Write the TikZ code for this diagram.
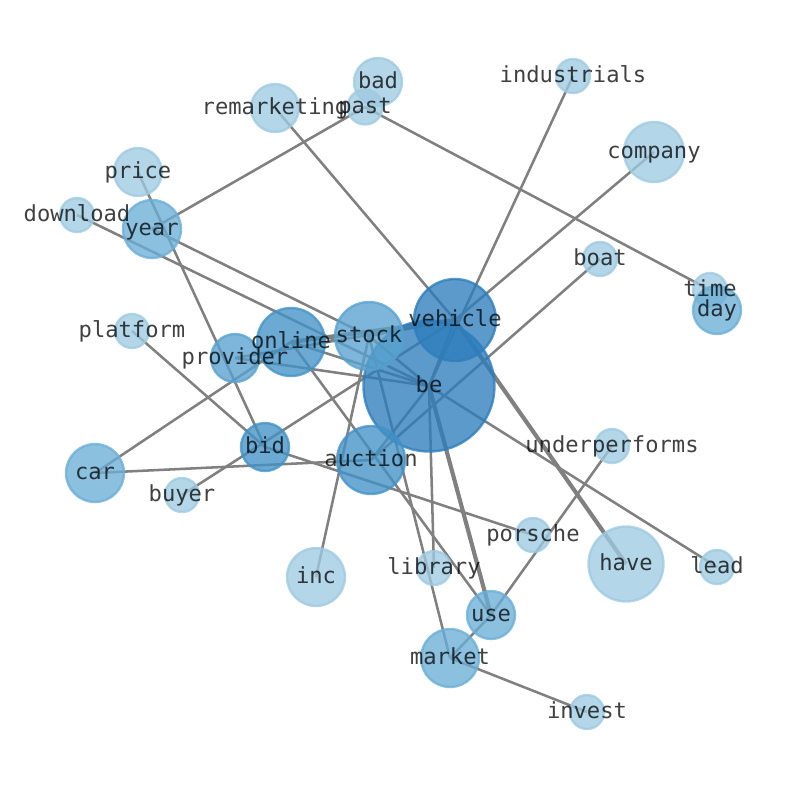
\documentclass[tikz,border=0pt]{standalone}
\usepackage{fontspec}
\setmonofont{DejaVu Sans Mono}
\usetikzlibrary{backgrounds}
\definecolor{cA}{RGB}{158,202,225}
\definecolor{cB}{RGB}{107,174,214}
\definecolor{cC}{RGB}{88,162,207}
\definecolor{cD}{RGB}{66,146,198}
\definecolor{cE}{RGB}{45,125,188}
\definecolor{edgegray}{RGB}{128,128,128}
\tikzset{
  nd/.style={circle, inner sep=0pt, fill=#1, draw=#1, fill opacity=0.78, draw opacity=0.78, line width=1.8pt},
  lbl/.style={font=\ttfamily\fontsize{16.6pt}{18pt}\selectfont, text=black, text opacity=0.75, inner sep=0pt, text height=0.74em, text depth=0.24em, yshift=-2.4pt},
  ed/.style={draw=edgegray, line width=1.9pt},
  edt/.style={draw=edgegray, line width=3.1pt}
}
\begin{document}
\begin{tikzpicture}[x=0.75pt,y=-0.75pt]
\useasboundingbox (0,0) rectangle (794,790);
% nodes (circles)
\node[nd=cA, minimum size=48*0.75pt] (bad) at (378,82) {};
\node[nd=cA, minimum size=35*0.75pt] (past) at (365,107) {};
\node[nd=cA, minimum size=48*0.75pt] (remarketing) at (275,108) {};
\node[nd=cA, minimum size=34*0.75pt] (industrials) at (573,76) {};
\node[nd=cA, minimum size=60*0.75pt] (company) at (654,152) {};
\node[nd=cA, minimum size=48*0.75pt] (price) at (138,172) {};
\node[nd=cA, minimum size=34*0.75pt] (download) at (77,215) {};
\node[nd=cB, minimum size=58*0.75pt] (year) at (152,229) {};
\node[nd=cA, minimum size=34*0.75pt] (boat) at (600,259) {};
\node[nd=cA, minimum size=34*0.75pt] (time) at (710,290) {};
\node[nd=cB, minimum size=48*0.75pt] (day) at (717,310) {};
\node[nd=cA, minimum size=34*0.75pt] (platform) at (132,331) {};
\node[nd=cE, minimum size=131*0.75pt] (be) at (429,386) {};
\node[nd=cE, minimum size=82*0.75pt] (vehicle) at (455,320) {};
\node[nd=cC, minimum size=68*0.75pt] (stock) at (369,336) {};
\node[nd=cD, minimum size=68*0.75pt] (online) at (291,342) {};
\node[nd=cC, minimum size=48*0.75pt] (provider) at (235,358) {};
\node[nd=cA, minimum size=34*0.75pt] (underperforms) at (612,446) {};
\node[nd=cD, minimum size=48*0.75pt] (bid) at (265,447) {};
\node[nd=cD, minimum size=68*0.75pt] (auction) at (371,460) {};
\node[nd=cB, minimum size=58*0.75pt] (car) at (95,473) {};
\node[nd=cA, minimum size=34*0.75pt] (buyer) at (182,495) {};
\node[nd=cA, minimum size=34*0.75pt] (porsche) at (533,535) {};
\node[nd=cA, minimum size=75*0.75pt] (have) at (626,564) {};
\node[nd=cA, minimum size=34*0.75pt] (lead) at (717,567) {};
\node[nd=cA, minimum size=58*0.75pt] (inc) at (316,577) {};
\node[nd=cA, minimum size=34*0.75pt] (library) at (434,568) {};
\node[nd=cB, minimum size=48*0.75pt] (use) at (491,615) {};
\node[nd=cB, minimum size=58*0.75pt] (market) at (450,658) {};
\node[nd=cA, minimum size=34*0.75pt] (invest) at (587,712) {};
% edges
\begin{scope}[on background layer]
\draw[ed] (year.center) -- (past.center);
\draw[ed] (past.center) -- (time.center);
\draw[ed] (remarketing.center) -- (vehicle.center);
\draw[ed] (industrials.center) -- (be.center);
\draw[ed] (company.center) -- (vehicle.center);
\draw[ed] (boat.center) -- (auction.center);
\draw[ed] (platform.center) -- (bid.center);
\draw[ed] (download.center) -- (be.center);
\draw[ed] (year.center) -- (stock.center);
\draw[ed] (price.center) -- (bid.center);
\draw[ed] (car.center) -- (online.center);
\draw[ed] (car.center) -- (auction.center);
\draw[ed] (buyer.center) -- (vehicle.center);
\draw[ed] (bid.center) -- (porsche.center);
\draw[ed] (provider.center) -- (be.center);
\draw[ed] (provider.center) -- (vehicle.center);
\draw[edt] (online.center) -- (vehicle.center);
\draw[ed] (online.center) -- (be.center);
\draw[ed] (online.center) -- (use.center);
\draw[ed] (stock.center) -- (be.center);
\draw[ed] (stock.center) -- (inc.center);
\draw[ed] (stock.center) -- (market.center);
\draw[ed] (be.center) -- (library.center);
\draw[edt] (be.center) -- (use.center);
\draw[ed] (be.center) -- (lead.center);
\draw[ed] (be.center) -- (auction.center);
\draw[edt] (vehicle.center) -- (have.center);
\draw[ed] (vehicle.center) -- (be.center);
\draw[ed] (stock.center) -- (vehicle.center);
\draw[ed] (use.center) -- (underperforms.center);
\draw[ed] (market.center) -- (use.center);
\draw[ed] (market.center) -- (invest.center);
\end{scope}
% labels
\node[lbl] (l-bad) at (bad.center) {bad};
\node[lbl] (l-remarketing) at (remarketing.center) {remarketing};
\node[lbl] (l-past) at (past.center) {past};
\node[lbl] (l-industrials) at (industrials.center) {industrials};
\node[lbl] (l-company) at (company.center) {company};
\node[lbl] (l-price) at (price.center) {price};
\node[lbl] (l-download) at (download.center) {download};
\node[lbl] (l-year) at (year.center) {year};
\node[lbl] (l-boat) at (boat.center) {boat};
\node[lbl] (l-time) at (time.center) {time};
\node[lbl] (l-day) at (day.center) {day};
\node[lbl] (l-platform) at (platform.center) {platform};
\node[lbl] (l-be) at (be.center) {be};
\node[lbl] (l-vehicle) at (vehicle.center) {vehicle};
\node[lbl] (l-stock) at (stock.center) {stock};
\node[lbl] (l-online) at (online.center) {online};
\node[lbl] (l-provider) at (provider.center) {provider};
\node[lbl] (l-underperforms) at (underperforms.center) {underperforms};
\node[lbl] (l-bid) at (bid.center) {bid};
\node[lbl] (l-auction) at (auction.center) {auction};
\node[lbl] (l-car) at (car.center) {car};
\node[lbl] (l-buyer) at (buyer.center) {buyer};
\node[lbl] (l-porsche) at (porsche.center) {porsche};
\node[lbl] (l-have) at (have.center) {have};
\node[lbl] (l-lead) at (lead.center) {lead};
\node[lbl] (l-inc) at (inc.center) {inc};
\node[lbl] (l-library) at (library.center) {library};
\node[lbl] (l-use) at (use.center) {use};
\node[lbl] (l-market) at (market.center) {market};
\node[lbl] (l-invest) at (invest.center) {invest};
\end{tikzpicture}
\end{document}
